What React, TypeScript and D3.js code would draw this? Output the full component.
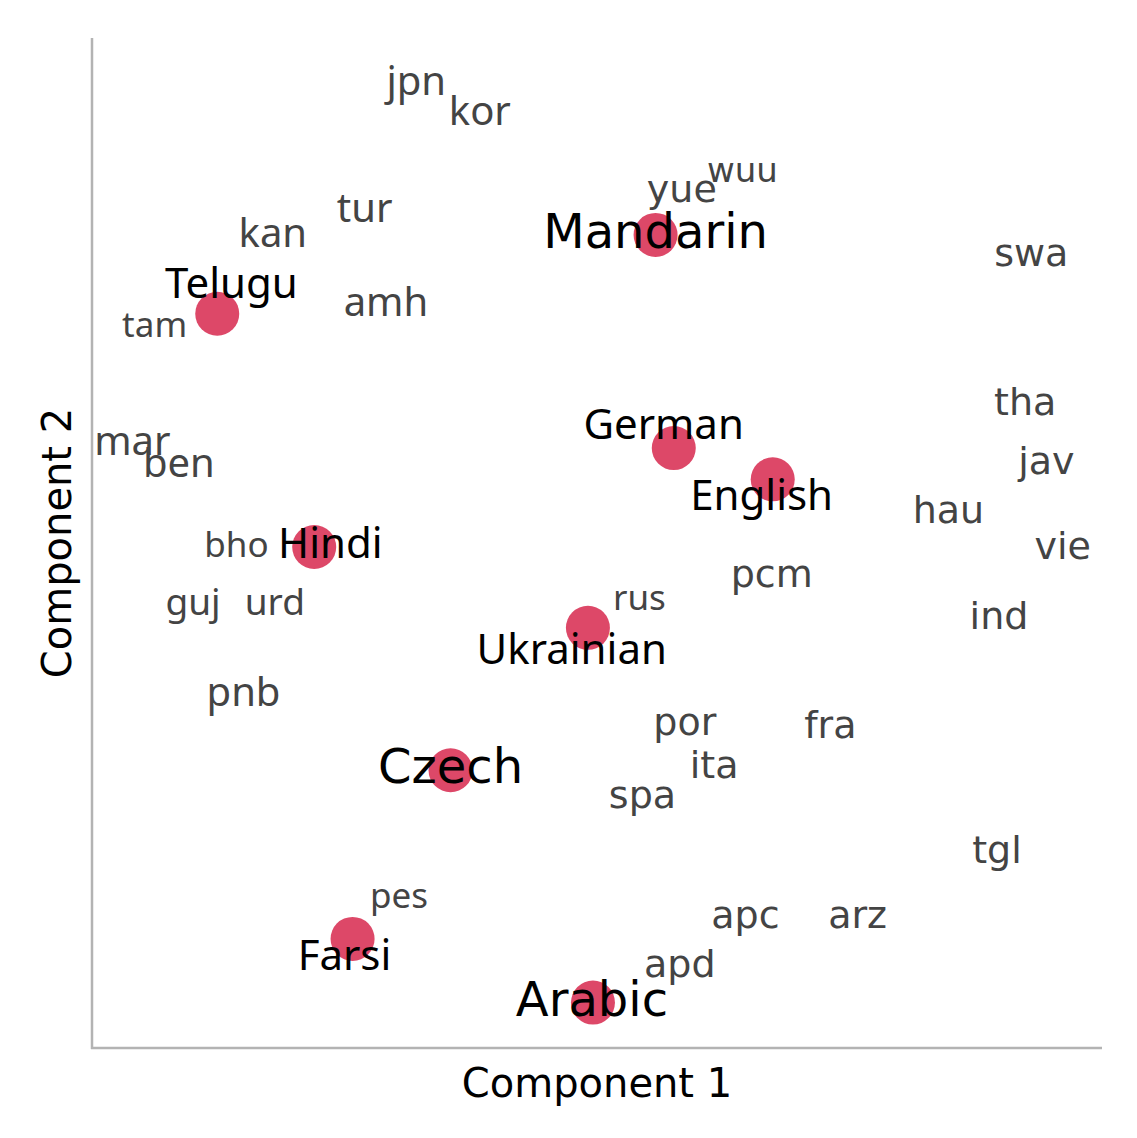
import React, { useEffect, useRef } from "react";
import * as d3 from "d3";

const width = 1137;
const height = 1138;
const margin = { top: 38, right: 35, bottom: 90, left: 92 };

// languages with a marker (label sits near the dot)
const hubNames = ["Telugu", "Mandarin", "German", "English", "Hindi", "Ukrainian", "Czech", "Farsi", "Arabic"];
const hubX = [-3.76, 0.58, 0.76, 1.74, -2.8, -0.09, -1.45, -2.42, -0.04];
const hubY = [2.27, 3.05, 0.94, 0.63, -0.04, -0.84, -2.25, -3.92, -4.55];
const hubLabelX = [-3.62, 0.58, 0.66, 1.63, -2.64, -0.25, -1.45, -2.5, -0.05];
const hubLabelY = [2.43, 2.92, 1.03, 0.33, -0.15, -1.2, -2.38, -4.23, -4.68];

// ISO codes, text only
const codeNames = [
  "jpn", "kor", "tur", "kan", "amh", "tam", "yue", "wuu", "swa", "tha", "jav", "hau", "vie", "ind",
  "mar", "ben", "bho", "guj", "urd", "pnb", "pcm", "rus", "por", "fra", "ita", "spa", "tgl", "pes",
  "apc", "arz", "apd",
];
const codeX = [
  -1.79, -1.16, -2.3, -3.21, -2.09, -4.38, 0.84, 1.44, 4.3, 4.24, 4.45, 3.48, 4.61, 3.98,
  -4.6, -4.14, -3.57, -4.0, -3.19, -3.5, 1.73, 0.42, 0.87, 2.31, 1.16, 0.45, 3.96, -1.96,
  1.47, 2.58, 0.82,
];
const codeY = [
  4.44, 4.14, 3.18, 2.93, 2.25, 2.04, 3.38, 3.57, 2.74, 1.27, 0.68, 0.2, -0.16, -0.85,
  0.87, 0.65, -0.14, -0.71, -0.71, -1.61, -0.44, -0.66, -1.9, -1.93, -2.33, -2.62, -3.17, -3.61,
  -3.81, -3.81, -4.3,
];

const dejavu = "'DejaVu Sans', sans-serif";
const noto = "'Noto Sans', 'Open Sans', sans-serif";
const dejavuHubs = new Set(["Mandarin", "Czech", "Arabic"]);
const notoCodes = new Set(["jpn", "kor", "tur", "kan", "amh", "tam", "mar", "ben", "bho", "guj", "urd", "pnb", "rus", "pes"]);
const smallCodes = new Set(["wuu", "bho", "rus", "pes", "tam"]);
const midCodes = new Set(["guj", "urd"]);

export default function App() {
  const ref = useRef<SVGSVGElement>(null);

  useEffect(() => {
    const svg = d3.select(ref.current);
    svg.selectAll("*").remove();

    const x = d3.scaleLinear().domain([-5, 5]).range([margin.left, width - margin.right]);
    const y = d3.scaleLinear().domain([-5, 5]).range([height - margin.bottom, margin.top]);

    const hubs = hubNames.map((name, i) => ({ name, x: hubX[i], y: hubY[i], lx: hubLabelX[i], ly: hubLabelY[i] }));
    const codes = codeNames.map((name, i) => ({ name, x: codeX[i], y: codeY[i] }));

    // spines
    const [x0, x1] = x.range();
    const [y0, y1] = y.range();
    svg.append("line")
      .attr("x1", x0).attr("x2", x0).attr("y1", y1).attr("y2", y0 + 1)
      .attr("stroke", "#b3b3b3").attr("stroke-width", 2.5);
    svg.append("line")
      .attr("x1", x0 - 1).attr("x2", x1).attr("y1", y0).attr("y2", y0)
      .attr("stroke", "#b3b3b3").attr("stroke-width", 2.5);

    svg.append("g")
      .selectAll("circle")
      .data(hubs)
      .join("circle")
      .attr("cx", (d) => x(d.x))
      .attr("cy", (d) => y(d.y))
      .attr("r", 22)
      .attr("fill", "#dd4868");

    svg.append("g")
      .selectAll("text")
      .data(codes)
      .join("text")
      .attr("x", (d) => x(d.x))
      .attr("y", (d) => y(d.y))
      .attr("text-anchor", "middle")
      .attr("fill", "#444444")
      .style("font-family", (d) => (notoCodes.has(d.name) ? noto : dejavu))
      .style("font-size", (d) => {
        if (smallCodes.has(d.name)) return notoCodes.has(d.name) ? "35px" : "34px";
        if (midCodes.has(d.name)) return "37px";
        return notoCodes.has(d.name) ? "40px" : "38px";
      })
      .text((d) => d.name);

    svg.append("g")
      .selectAll("text")
      .data(hubs)
      .join("text")
      .attr("x", (d) => x(d.lx))
      .attr("y", (d) => y(d.ly))
      .attr("text-anchor", "middle")
      .attr("fill", "#000")
      .style("font-family", (d) => (dejavuHubs.has(d.name) ? dejavu : noto))
      .style("font-size", (d) => (dejavuHubs.has(d.name) ? "48px" : "42px"))
      .text((d) => d.name);

    // axis titles
    svg.append("text")
      .attr("x", (x0 + x1) / 2)
      .attr("y", 1097)
      .attr("text-anchor", "middle")
      .style("font-family", dejavu)
      .style("font-size", "40px")
      .text("Component 1");
    svg.append("text")
      .attr("transform", `translate(71,${(y0 + y1) / 2}) rotate(-90)`)
      .attr("text-anchor", "middle")
      .style("font-family", dejavu)
      .style("font-size", "40px")
      .text("Component 2");
  }, []);

  return (
    <svg
      ref={ref}
      width={width}
      height={height}
      style={{ position: "absolute", left: 0, top: 0, background: "#fff" }}
    />
  );
}
